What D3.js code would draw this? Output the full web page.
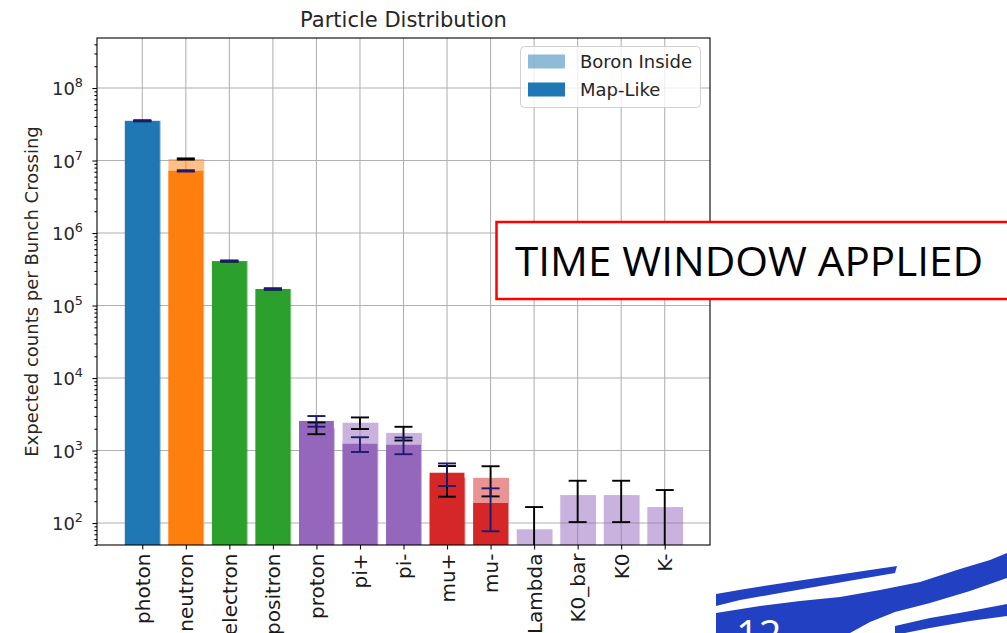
<!DOCTYPE html>
<html>
<head>
<meta charset="utf-8">
<script src="https://cdn.jsdelivr.net/npm/d3@7"></script>
<style>
  html, body { margin: 0; padding: 0; background: #ffffff; }
  svg { display: block; }
</style>
</head>
<body>
<svg id="chart" width="1007" height="633"></svg>
<script>
// Particle counts per bunch crossing, two detector configurations
const categories = ["photon", "neutron", "electron", "positron", "proton", "pi+", "pi-",
                    "mu+", "mu-", "Lambda", "K0_bar", "K0", "K-"];
const boronValues = [3.55e7, 1.05e7, 4.1e5, 1.69e5, 2060, 2420, 1750, 421, 420, 82, 243, 243, 166];
const boronErrors = [4e5, 2e5, 6e3, 3e3, 380, 440, 375, 190, 187, 84, 140, 140, 119];
const mapValues   = [3.5e7, 7.2e6, 4.1e5, 1.69e5, 2560, 1240, 1200, 494, 189, 0, 0, 0, 0];
const mapErrors   = [4e5, 1.5e5, 6e3, 3e3, 430, 285, 310, 170, 112, 0, 0, 0, 0];
const yMajorTicks = [1e2, 1e3, 1e4, 1e5, 1e6, 1e7, 1e8];
const yTickExponents = ["2", "3", "4", "5", "6", "7", "8"];
const seriesNames = ["Boron Inside", "Map-Like"];

// tab10 colours by particle family
const barColors = ["#1f77b4", "#ff7f0e", "#2ca02c", "#2ca02c", "#9467bd", "#9467bd", "#9467bd",
                   "#d62728", "#d62728", "#9467bd", "#9467bd", "#9467bd", "#9467bd"];

const svg = d3.select("#chart");
const FONT = "DejaVu Sans, Verdana, sans-serif";
const plot = { left: 97, right: 710, top: 38, bottom: 545 };

const x = d3.scaleLinear()
  .domain([-1.04, categories.length - 1 + 1.04])
  .range([plot.left, plot.right]);
const y = d3.scaleLog()
  .domain([Math.pow(10, 1.697), Math.pow(10, 8.69)])
  .range([plot.bottom, plot.top]);
const barW = 0.8;

svg.append("defs").append("clipPath").attr("id", "plotClip")
  .append("rect")
  .attr("x", plot.left).attr("y", plot.top)
  .attr("width", plot.right - plot.left).attr("height", plot.bottom - plot.top);

// grid
const grid = svg.append("g").attr("stroke", "#b0b0b0").attr("stroke-width", 1.05);
grid.selectAll("line.v").data(d3.range(categories.length)).join("line")
  .attr("x1", d => x(d)).attr("x2", d => x(d))
  .attr("y1", plot.top).attr("y2", plot.bottom);
grid.selectAll("line.h").data(yMajorTicks).join("line")
  .attr("x1", plot.left).attr("x2", plot.right)
  .attr("y1", d => y(d)).attr("y2", d => y(d));

const bars = svg.append("g").attr("clip-path", "url(#plotClip)");
const idx = d3.range(categories.length);

// Boron Inside bars (translucent)
bars.append("g").selectAll("rect").data(idx.filter(i => boronValues[i] > 0)).join("rect")
  .attr("x", i => x(i - barW / 2))
  .attr("width", i => x(i + barW / 2) - x(i - barW / 2) + 1)
  .attr("y", i => y(boronValues[i]))
  .attr("height", i => plot.bottom - y(boronValues[i]))
  .attr("fill", i => barColors[i]).attr("fill-opacity", 0.5);

// Map-Like bars (solid)
bars.append("g").selectAll("rect").data(idx.filter(i => mapValues[i] > 0)).join("rect")
  .attr("x", i => x(i - barW / 2))
  .attr("width", i => x(i + barW / 2) - x(i - barW / 2))
  .attr("y", i => y(mapValues[i]))
  .attr("height", i => plot.bottom - y(mapValues[i]))
  .attr("fill", i => barColors[i]);

// error bars
function drawErrors(values, errors, color) {
  const g = bars.append("g").attr("stroke", color).attr("stroke-width", 1.9).attr("fill", "none");
  const cap = 9;
  idx.filter(i => values[i] > 0 && errors[i] > 0).forEach(i => {
    const lo = values[i] - errors[i];
    const hi = values[i] + errors[i];
    const yHi = y(hi);
    const yLo = lo > 0 ? y(lo) : plot.bottom + 50;
    const cx = x(i);
    g.append("line").attr("x1", cx).attr("x2", cx).attr("y1", yHi).attr("y2", yLo);
    g.append("line").attr("x1", cx - cap).attr("x2", cx + cap).attr("y1", yHi).attr("y2", yHi);
    if (lo > 0) g.append("line").attr("x1", cx - cap).attr("x2", cx + cap).attr("y1", yLo).attr("y2", yLo);
  });
}
drawErrors(boronValues, boronErrors, "#000000");
drawErrors(mapValues, mapErrors, "#1c1c6e");

// axes
const yMinor = [];
for (let d = 1; d <= 8; d++) for (let k = 2; k <= 9; k++) {
  const v = k * Math.pow(10, d);
  if (v >= y.domain()[0] && v <= y.domain()[1]) yMinor.push(v);
}
const yAxisMinor = svg.append("g").attr("transform", `translate(${plot.left},0)`)
  .call(d3.axisLeft(y).tickValues(yMinor).tickSize(2.6).tickFormat(() => ""));
const yAxis = svg.append("g").attr("transform", `translate(${plot.left},0)`)
  .call(d3.axisLeft(y).tickValues(yMajorTicks).tickSize(4.6).tickFormat(() => ""));
[yAxisMinor, yAxis].forEach(a => {
  a.select(".domain").remove();
  a.selectAll("line").attr("stroke", "#000").attr("stroke-width", 1.05);
});
// y tick labels as 10 with superscript exponent
yMajorTicks.forEach((v, i) => {
  const t = svg.append("text")
    .attr("x", 83).attr("y", y(v) + 7)
    .attr("text-anchor", "end")
    .attr("font-family", FONT).attr("font-size", 18).attr("fill", "#262626");
  t.append("tspan").text("10");
  t.append("tspan").attr("font-size", 12.8).attr("dy", -8).text(yTickExponents[i]);
});

const xAxis = svg.append("g").attr("transform", `translate(0,${plot.bottom})`)
  .call(d3.axisBottom(x).tickValues(idx).tickSize(4.6).tickPadding(4.6)
        .tickFormat(i => categories[i]));
xAxis.select(".domain").remove();
xAxis.selectAll("line").attr("stroke", "#000").attr("stroke-width", 1.05);
xAxis.selectAll("text")
  .attr("font-family", FONT).attr("font-size", 20).attr("fill", "#1a1a1a")
  .attr("transform", "rotate(-90)")
  .attr("text-anchor", "end")
  .attr("dy", "0.35em")
  .attr("x", -8.5)
  .attr("y", 0);

// frame
svg.append("rect")
  .attr("x", plot.left).attr("y", plot.top)
  .attr("width", plot.right - plot.left).attr("height", plot.bottom - plot.top)
  .attr("fill", "none").attr("stroke", "#000").attr("stroke-width", 1.1);

// title and axis label
svg.append("text")
  .attr("x", (plot.left + plot.right) / 2).attr("y", 27)
  .attr("text-anchor", "middle")
  .attr("font-family", FONT).attr("font-size", 21).attr("fill", "#262626")
  .text("Particle Distribution");
svg.append("text")
  .attr("transform", `translate(32,${(plot.top + plot.bottom) / 2}) rotate(-90)`)
  .attr("text-anchor", "middle").attr("dy", "0.35em")
  .attr("font-family", FONT).attr("font-size", 18).attr("fill", "#262626")
  .text("Expected counts per Bunch Crossing");

// legend
const legend = svg.append("g");
legend.append("rect")
  .attr("x", 520.5).attr("y", 46.5).attr("width", 180).attr("height", 61)
  .attr("rx", 4).attr("fill", "#ffffff").attr("fill-opacity", 0.8)
  .attr("stroke", "#d0d0d0").attr("stroke-width", 1);
seriesNames.forEach((name, i) => {
  const ly = 54.5 + i * 28;
  legend.append("rect")
    .attr("x", 528).attr("y", ly).attr("width", 37).attr("height", 14)
    .attr("fill", "#1f77b4").attr("fill-opacity", i === 0 ? 0.5 : 1);
  legend.append("text")
    .attr("x", 580).attr("y", ly + 13)
    .attr("font-family", FONT).attr("font-size", 18).attr("fill", "#262626")
    .text(name);
});

// callout box
svg.append("rect")
  .attr("x", 496.5).attr("y", 222).attr("width", 530).attr("height", 77)
  .attr("fill", "#ffffff").attr("stroke", "#ff0000").attr("stroke-width", 2.5);
svg.append("text")
  .attr("x", 515).attr("y", 276)
  .attr("font-family", "Open Sans, Lato, sans-serif").attr("font-size", 40.5).attr("fill", "#000")
  .attr("textLength", 468).attr("lengthAdjust", "spacingAndGlyphs")
  .text("TIME WINDOW APPLIED");

// slide corner artwork
const art = svg.append("g").attr("fill", "#2140c2");
art.append("path").attr("d",
  "M716,594 L745,589 L790,582 L830,576 L870,570 L897,566 L895,573 L860,579 L820,586 L780,593 L740,600 L716,606 Z");
art.append("path").attr("d",
  "M716,613 L760,606 L800,601 L840,597 L880,590 L920,582 L960,569 L990,560 L1007,553 L1007,578 L970,591 L930,603 L895,612 L870,622 L850,633 L716,633 Z");
art.append("path").attr("d",
  "M895,626 L930,618 L965,612 L1007,604 L1007,616 L970,621 L930,628 L905,633 L895,633 Z");
svg.append("text")
  .attr("x", 736).attr("y", 649)
  .attr("font-family", "Open Sans, sans-serif").attr("font-size", 40).attr("fill", "#ffffff")
  .text("12");
</script>
</body>
</html>
